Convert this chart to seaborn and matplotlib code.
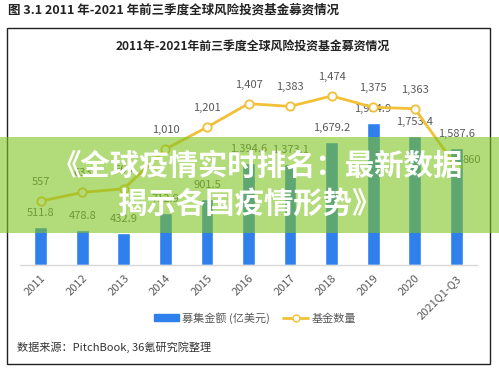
import numpy as np
import pandas as pd
import matplotlib
matplotlib.use("Agg")
import matplotlib.pyplot as plt
from matplotlib.patches import Rectangle
from matplotlib.lines import Line2D
import seaborn as sns

categories = ["2011", "2012", "2013", "2014", "2015", "2016", "2017", "2018", "2019", "2020", "2021Q1-Q3"]
amounts = [511.8, 478.8, 432.9, 712.9, 901.5, 1394.6, 1373.1, 1679.2, 1934.9, 1753.4, 1587.6]
counts = [557, 633, 665, 1010, 1201, 1407, 1383, 1474, 1375, 1363, 860]

fig_title = "图 3.1 2011 年-2021 年前三季度全球风险投资基金募资情况"
chart_title = "2011年-2021年前三季度全球风险投资基金募资情况"
bar_name = "募集金额 (亿美元)"
line_name = "基金数量"
source = "数据来源：PitchBook, 36氪研究院整理"
overlay1 = "《全球疫情实时排名：最新数据"
overlay2 = "揭示各国疫情形势》"

sns.set_theme(style="white")
plt.rcParams['font.family'] = ['Noto Sans CJK SC', 'DejaVu Sans']

BLUE = "#2F7FED"
GOLD = "#F2C037"
GREY = "#595959"

df = pd.DataFrame({"cat": categories, "amount": amounts, "count": counts})
df["pos"] = np.arange(len(df))

fig = plt.figure(figsize=(4.99, 3.71), dpi=100)
fig.patch.set_facecolor("white")
ax = fig.add_axes([20/499, 1-265/371, 457/499, 183.5/371])

sns.barplot(data=df, x="cat", y="amount", ax=ax, color=BLUE, width=0.31,
            saturation=1, order=categories)
ax.set_ylim(0, 2500)
ax.set_xlim(-0.5, len(categories)-0.5)
for p, v in zip(ax.patches, amounts):
    ax.annotate(f"{v:,.1f}", (p.get_x()+p.get_width()/2, p.get_height()),
                xytext=(0, 14), textcoords="offset pixels",
                ha="center", va="center", fontsize=8, color=GREY)

ax2 = ax.twinx()
sns.lineplot(data=df, x="pos", y="count", ax=ax2, color=GOLD, linewidth=2.0,
             marker="o", markersize=6, markerfacecolor="white",
             markeredgecolor=GOLD, markeredgewidth=1.3)
ax2.set_ylim(0, 1600)
ax2.set_xlim(-0.5, len(categories)-0.5)
for i, v in enumerate(counts):
    if i == len(counts)-1:
        ax2.annotate(f"{v:,}", (i, v), xytext=(16, 6), textcoords="offset pixels",
                     ha="center", va="center", fontsize=8, color=GREY)
    else:
        ax2.annotate(f"{v:,}", (i, v), xytext=(0, 19), textcoords="offset pixels",
                     ha="center", va="center", fontsize=8, color=GREY)

for a in (ax, ax2):
    a.set_yticks([])
    a.set_ylabel("")
    a.set_xlabel("")
    for s in ["top", "right", "left"]:
        a.spines[s].set_visible(False)
ax2.spines["bottom"].set_visible(False)
ax.spines["bottom"].set_color("#D9D9D9")
ax.spines["bottom"].set_linewidth(1)
ax.set_xticks(range(len(categories)))
ax.set_xticklabels(categories, rotation=45, ha="right", rotation_mode="anchor",
                   fontsize=8, color=GREY)
ax.tick_params(axis="x", length=0, pad=6)
ax2.tick_params(axis="x", length=0, labelbottom=False)

# Outer frame and texts
fig.patches.append(Rectangle((7/499, 1-364/371), 483/499, 336/371, transform=fig.transFigure,
                             fill=False, edgecolor="#222222", linewidth=1.0, zorder=1))
fig.text(8/499, 1-10/371, fig_title, fontsize=9, fontweight="bold", color="#222222",
         ha="left", va="center")
fig.text(253/499, 1-46/371, chart_title, fontsize=8.6, fontweight="bold", color="#222222",
         ha="center", va="center")

# Legend
handles = [Rectangle((0, 0), 1, 1, color=BLUE),
           Line2D([0], [0], color=GOLD, lw=2.0, marker="o", markersize=5,
                  markerfacecolor="white", markeredgecolor=GOLD)]
fig.legend(handles, [bar_name, line_name], loc="center", bbox_to_anchor=(255/499, 1-318/371),
           ncol=2, frameon=False, fontsize=8, handlelength=2.2, handleheight=0.6,
           columnspacing=1.2, handletextpad=0.3, labelcolor=GREY)
fig.text(17/499, 1-347/371, source, fontsize=8, color="#333333", ha="left", va="center")

# Overlay banner
fig.patches.append(Rectangle((0, 1-233/371), 1, 96/371, transform=fig.transFigure,
                             facecolor="#7FC321", alpha=0.6, edgecolor="none", zorder=10))
fig.text(52/499, 1-166/371, overlay1, fontsize=21.2, fontweight="bold", color="white",
         ha="left", va="center", zorder=11)
fig.text(118/499, 1-204/371, overlay2, fontsize=21.2, fontweight="bold", color="white",
         ha="left", va="center", zorder=11)

fig.savefig("out.png", dpi=100)
